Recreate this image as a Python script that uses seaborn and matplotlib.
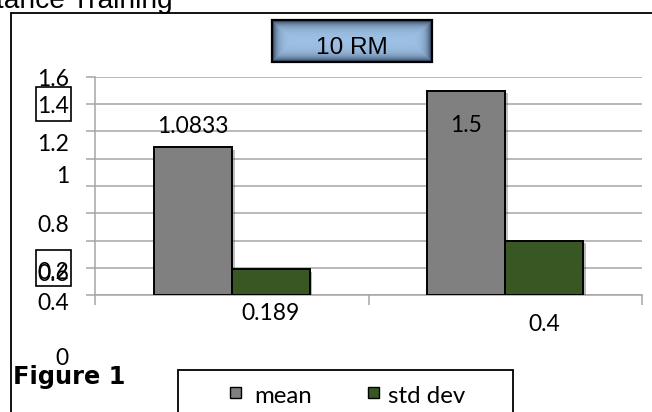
import numpy as np
import pandas as pd
import matplotlib
matplotlib.use("Agg")
import matplotlib.pyplot as plt
import seaborn as sns
from matplotlib.patches import Rectangle
from matplotlib.lines import Line2D
from matplotlib import patheffects as pe
from matplotlib import transforms

# ---- data ----
groups = ["Pre", "Post"]
stats = ["mean", "std dev"]
mean_values = [1.0833, 1.5]
std_values = [0.189, 0.4]
ytick_labels = ["1.6", "1.4", "1.2", "1", "0.8", "0.2", "0.6", "0.4", "0"]
chart_title = "10 RM"
caption = "Figure 1"
page_heading = "Resistance Training"

# ---- layout (pixels from top-left of the page) ----
W, H = 652, 412
ytick_baselines = [86, 113, 151, 183, 232, 279, 281, 310, 365]
value_baselines = {"mean": [133, 132], "std dev": [320, 331]}
boxed_ticks = [(35.5, 87, 70.5, 121), (35.5, 250, 70.5, 285.5)]

sns.set_theme(style="white")
plt.rcParams["font.family"] = ["Lato", "DejaVu Sans"]

fig = plt.figure(figsize=(W / 100, H / 100), dpi=100)
fig.patch.set_facecolor("white")


def fx(x):
    return x / W


def fy(y):
    return 1 - y / H


grid_gray = "#A6A6A6"
ax = fig.add_axes([fx(95), fy(295), (642 - 95) / W, (295 - 77) / H])

df = pd.DataFrame({
    "group": groups * 2,
    "stat": [stats[0]] * len(groups) + [stats[1]] * len(groups),
    "value": mean_values + std_values,
})
palette = {"mean": "#808080", "std dev": "#385723"}
sns.barplot(data=df, x="group", y="value", hue="stat", order=groups,
            hue_order=stats, palette=palette, width=0.57, gap=0,
            saturation=1, errorbar=None, edgecolor="black", linewidth=1.4,
            legend=False, ax=ax, zorder=3)

for p in ax.patches:
    p.set_path_effects([pe.SimplePatchShadow(offset=(2, -2), alpha=0.3, rho=0.4),
                        pe.Normal()])

ax.set_xlim(-0.5, 1.5)
ax.set_ylim(0, 1.6)
ax.set_yticks(np.arange(0, 1.61, 0.2))
ax.set_xticks([-0.5, 0.5, 1.5])
ax.set_xticklabels([])
ax.set_yticklabels([])
ax.set_xlabel("")
ax.set_ylabel("")
ax.yaxis.grid(True, color=grid_gray, linewidth=1.1)
ax.set_axisbelow(True)
ax.tick_params(axis="y", left=True, length=6.5, width=1.1, color=grid_gray,
               direction="out", labelleft=False)
ax.tick_params(axis="x", bottom=True, length=7.2, width=1.1, color=grid_gray,
               direction="out", labelbottom=False)
for side in ["top", "right"]:
    ax.spines[side].set_visible(False)
for side in ["left", "bottom"]:
    ax.spines[side].set_color(grid_gray)
    ax.spines[side].set_linewidth(1.1)
ax.patch.set_alpha(0)

# value labels over/under each bar
blend = transforms.blended_transform_factory(ax.transData, fig.transFigure)
for container, stat in zip(ax.containers, stats):
    for bar, base in zip(container, value_baselines[stat]):
        xc = bar.get_x() + bar.get_width() / 2
        fig.text(xc, fy(base), f"{bar.get_height():g}", transform=blend,
                 ha="center", va="baseline", fontsize=16.5, color="black")

# y tick texts
for lab, base in zip(ytick_labels, ytick_baselines):
    fig.text(fx(69), fy(base), lab, ha="right", va="baseline",
             fontsize=16.5, color="black")
for x0, y0, x1, y1 in boxed_ticks:
    fig.add_artist(Rectangle((fx(x0), fy(y1)), fx(x1) - fx(x0), fy(y0) - fy(y1),
                             transform=fig.transFigure, fill=False,
                             edgecolor="black", linewidth=1.2))

# outer chart frame
fig.add_artist(Line2D([fx(11), fx(11)], [fy(12.5), fy(420)],
                      transform=fig.transFigure, color="black", linewidth=1.3))
fig.add_artist(Line2D([fx(11), fx(660)], [fy(12.5), fy(12.5)],
                      transform=fig.transFigure, color="black", linewidth=1.3))

# page heading (runs off the top of the page)
fig.text(fx(173), fy(8), page_heading, ha="right", va="baseline",
         fontsize=20.2, family="Liberation Sans", color="black")

# chart title box with a shaded inner glow
bx0, by0, bx1, by1 = 272, 20, 432, 62
bw, bh = bx1 - bx0, by1 - by0
yy, xx = np.mgrid[0:bh, 0:bw]
d = np.minimum(np.minimum(xx, bw - 1 - xx), np.minimum(yy, bh - 1 - yy)).astype(float)
t = np.exp(-d / 4.5)[..., None]
light = np.array([0.62, 0.76, 0.90])
dark = np.array([0.16, 0.22, 0.33])
glow = light * (1 - t) + dark * t
fig.figimage(glow, xo=bx0, yo=H - by1, origin="upper", zorder=1)
fig.add_artist(Rectangle((fx(bx0), fy(by1)), fx(bx1) - fx(bx0), fy(by0) - fy(by1),
                         transform=fig.transFigure, fill=False,
                         edgecolor="black", linewidth=1.6, zorder=2))
fig.text(fx(352), fy(54), chart_title, ha="center", va="baseline",
         fontsize=17.6, family="Liberation Sans", color="black", zorder=3)

# caption
fig.text(fx(13), fy(384), caption, ha="left", va="baseline", fontsize=17.3,
         family="DejaVu Sans", fontweight="bold", color="black")

# legend
fig.add_artist(Rectangle((fx(178), fy(430)), fx(513) - fx(178), fy(370) - fy(430),
                         transform=fig.transFigure, facecolor="white",
                         edgecolor="black", linewidth=1.3))
for stat, px, tx in zip(stats, [230, 368], [254, 388]):
    fig.add_artist(Rectangle((fx(px), fy(398)), fx(11), fy(387) - fy(398),
                             transform=fig.transFigure, facecolor=palette[stat],
                             edgecolor="black", linewidth=1.0))
    fig.text(fx(tx), fy(403), stat, ha="left", va="baseline", fontsize=17.3,
             color="black")

fig.savefig("out.png", dpi=100)
